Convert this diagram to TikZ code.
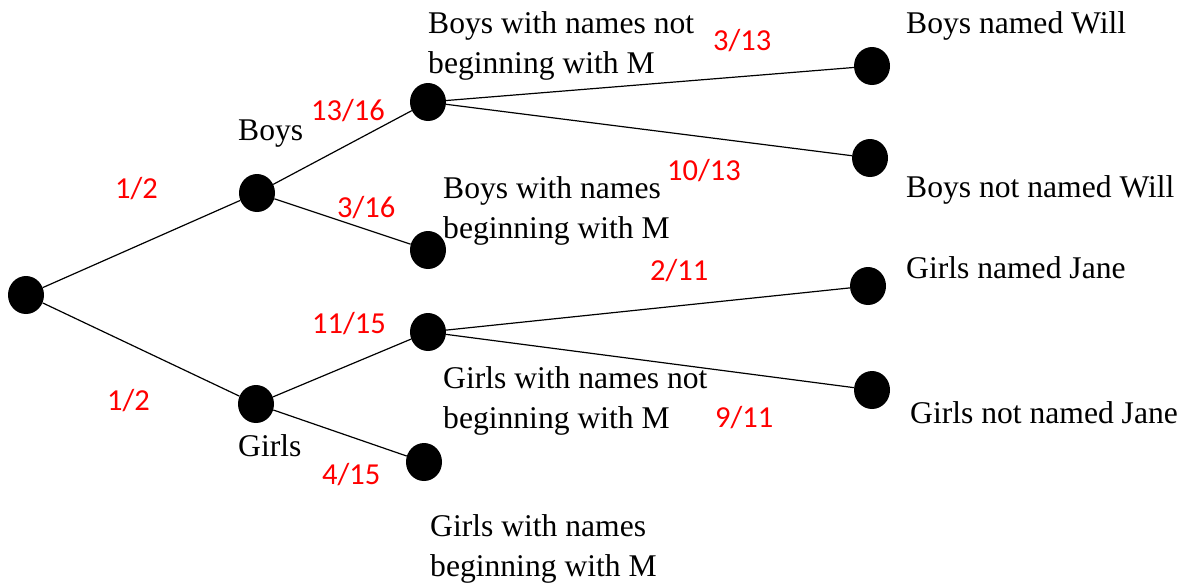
\documentclass[tikz,border=0pt]{standalone}
\usepackage{fontspec}
\setmainfont{Liberation Serif}
\newfontfamily\calfont{Carlito}
\usetikzlibrary{shapes.geometric}
\begin{document}
\begin{tikzpicture}[x=1pt,y=-1pt,
  dot/.style={ellipse,fill=black,minimum width=36pt,minimum height=38pt,inner sep=0pt},
  edge/.style={line width=1.2pt,black},
  lbl/.style={anchor=base west,inner sep=0pt,font=\fontsize{31.6}{40}\selectfont,align=left},
  prob/.style={anchor=base west,inner sep=0pt,text=red,font=\calfont\fontsize{30.5}{36}\selectfont}]
\useasboundingbox (0,0) rectangle (1185,582);
\node[dot] (root) at (26,295) {};
\node[dot] (boys) at (257,193) {};
\node[dot] (girls) at (256,404) {};
\node[dot] (bnm) at (428,102) {};
\node[dot] (bm) at (428,250) {};
\node[dot] (gnm) at (428,332) {};
\node[dot] (gm) at (424,462) {};
\node[dot] (will) at (872,66) {};
\node[dot] (nwill) at (870,158) {};
\node[dot] (jane) at (868,286) {};
\node[dot] (njane) at (872,390) {};
\draw[edge] (root) -- (boys);
\draw[edge] (root) -- (girls);
\draw[edge] (boys) -- (bnm);
\draw[edge] (boys) -- (bm);
\draw[edge] (girls) -- (gnm);
\draw[edge] (girls) -- (gm);
\draw[edge] (bnm) -- (will);
\draw[edge] (bnm) -- (nwill);
\draw[edge] (gnm) -- (jane);
\draw[edge] (gnm) -- (njane);
\node[lbl] (tboys) at (238,140) {Boys};
\node[lbl] (tgirls) at (238,456) {Girls};
\node[lbl] (tbnm) at (428,73) {Boys with names not\\beginning with M};
\node[lbl] (tbm) at (443,238) {Boys with names\\beginning with M};
\node[lbl] (tgnm) at (443,428) {Girls with names not\\beginning with M};
\node[lbl] (tgm) at (430,576) {Girls with names\\beginning with M};
\node[lbl] (twill) at (906,33) {Boys named Will};
\node[lbl] (tnwill) at (906,197) {Boys not named Will};
\node[lbl] (tjane) at (906,278) {Girls named Jane};
\node[lbl] (tnjane) at (910,423) {Girls not named Jane};
\node[prob] (p1) at (115,198) {1/2};
\node[prob] (p2) at (107,410) {1/2};
\node[prob] (p3) at (311,120) {13/16};
\node[prob] (p4) at (337,217) {3/16};
\node[prob] (p5) at (312,333) {11/15};
\node[prob] (p6) at (322,484) {4/15};
\node[prob] (p7) at (713,50) {3/13};
\node[prob] (p8) at (667,180) {10/13};
\node[prob] (p9) at (650,280) {2/11};
\node[prob] (p10) at (715,427) {9/11};
\end{tikzpicture}
\end{document}
